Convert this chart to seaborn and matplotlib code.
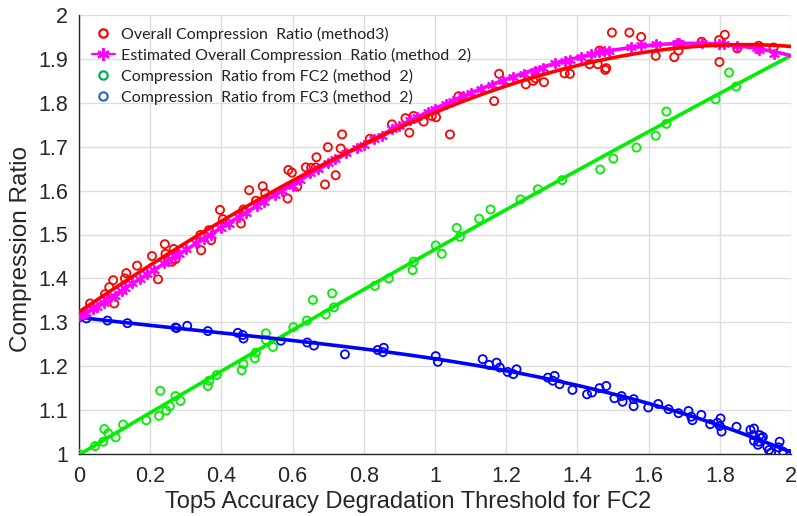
import numpy as np
import pandas as pd
import matplotlib
matplotlib.use("Agg")
import matplotlib.pyplot as plt
from matplotlib.lines import Line2D
import seaborn as sns

# ---------------- data ----------------
red_x = [0.0, 0.031, 0.073, 0.085, 0.096, 0.099, 0.129, 0.133, 0.163, 0.205, 0.222, 0.241,
         0.243, 0.266, 0.261, 0.271, 0.341, 0.343, 0.365, 0.371, 0.396, 0.404, 0.455, 0.462,
         0.478, 0.497, 0.516, 0.523, 0.586, 0.588, 0.598, 0.613, 0.637, 0.665, 0.667, 0.652,
         0.691, 0.699, 0.721, 0.735, 0.739, 0.817, 0.879, 0.917, 0.940, 0.928, 0.968, 0.991,
         1.003, 1.042, 1.066, 1.166, 1.180, 1.255, 1.276, 1.282, 1.306, 1.364, 1.379, 1.434,
         1.457, 1.462, 1.478, 1.481, 1.497, 1.546, 1.579, 1.620, 1.672, 1.684, 1.749, 1.798,
         1.814, 1.799, 1.849, 1.909, 1.951]
red_y = [1.317, 1.343, 1.364, 1.380, 1.396, 1.343, 1.400, 1.412, 1.429, 1.451, 1.398, 1.478,
         1.456, 1.467, 1.438, 1.444, 1.499, 1.464, 1.510, 1.487, 1.556, 1.535, 1.525, 1.557,
         1.601, 1.577, 1.610, 1.594, 1.582, 1.647, 1.641, 1.609, 1.653, 1.653, 1.676, 1.652,
         1.614, 1.699, 1.635, 1.696, 1.728, 1.718, 1.751, 1.765, 1.770, 1.732, 1.757, 1.770,
         1.767, 1.728, 1.815, 1.804, 1.866, 1.842, 1.850, 1.856, 1.847, 1.867, 1.866, 1.888,
         1.888, 1.919, 1.875, 1.879, 1.960, 1.960, 1.950, 1.907, 1.904, 1.919, 1.939, 1.943,
         1.955, 1.893, 1.924, 1.930, 1.926]

mag_x = [0.0, 0.01, 0.02, 0.04, 0.05, 0.07, 0.08, 0.10, 0.12, 0.13, 0.15, 0.17, 0.19, 0.21,
         0.24, 0.25, 0.27, 0.28, 0.30, 0.33, 0.35, 0.37, 0.40, 0.42, 0.45, 0.47, 0.50, 0.52,
         0.55, 0.57, 0.60, 0.62, 0.65, 0.67, 0.70, 0.72, 0.75, 0.78, 0.80, 0.83, 0.85, 0.88,
         0.90, 0.93, 0.95, 0.98, 1.00, 1.03, 1.05, 1.08, 1.10, 1.13, 1.16, 1.19, 1.22, 1.25,
         1.28, 1.303, 1.336, 1.364, 1.378, 1.41, 1.439, 1.462, 1.476, 1.49, 1.551, 1.579,
         1.62, 1.681, 1.686, 1.751, 1.798, 1.812, 1.849, 1.905, 1.909, 1.953]
mag_y = [1.315, 1.318, 1.322, 1.330, 1.335, 1.345, 1.352, 1.360, 1.372, 1.377, 1.390, 1.398,
         1.410, 1.420, 1.436, 1.440, 1.452, 1.455, 1.467, 1.480, 1.490, 1.500, 1.515, 1.525,
         1.540, 1.550, 1.565, 1.575, 1.590, 1.600, 1.610, 1.625, 1.640, 1.650, 1.662, 1.672,
         1.685, 1.698, 1.705, 1.718, 1.725, 1.740, 1.748, 1.760, 1.768, 1.780, 1.787, 1.798,
         1.805, 1.815, 1.822, 1.832, 1.840, 1.849, 1.858, 1.865, 1.872, 1.879, 1.890, 1.895,
         1.897, 1.904, 1.911, 1.915, 1.918, 1.919, 1.928, 1.932, 1.934, 1.937, 1.937, 1.937,
         1.935, 1.933, 1.930, 1.924, 1.920, 1.912]

green_x = [0.0, 0.045, 0.068, 0.071, 0.082, 0.103, 0.124, 0.189, 0.225, 0.228, 0.245, 0.255,
           0.271, 0.285, 0.362, 0.366, 0.387, 0.457, 0.462, 0.494, 0.497, 0.525, 0.525, 0.545,
           0.602, 0.640, 0.657, 0.693, 0.711, 0.716, 0.831, 0.870, 0.937, 0.940, 1.002, 1.019,
           1.061, 1.070, 1.124, 1.156, 1.240, 1.289, 1.357, 1.464, 1.501, 1.566, 1.620, 1.650,
           1.650, 1.788, 1.826, 1.846]
green_y = [1.000, 1.018, 1.028, 1.057, 1.047, 1.038, 1.067, 1.077, 1.087, 1.144, 1.099, 1.109,
           1.132, 1.121, 1.155, 1.167, 1.180, 1.191, 1.205, 1.218, 1.231, 1.275, 1.260, 1.244,
           1.289, 1.304, 1.351, 1.318, 1.366, 1.334, 1.383, 1.400, 1.419, 1.438, 1.475, 1.456,
           1.515, 1.495, 1.536, 1.557, 1.580, 1.603, 1.624, 1.648, 1.673, 1.698, 1.725, 1.752,
           1.780, 1.808, 1.869, 1.837]

blue_x = [0.0, 0.021, 0.080, 0.136, 0.271, 0.274, 0.304, 0.362, 0.446, 0.460, 0.462, 0.567,
          0.641, 0.660, 0.747, 0.839, 0.856, 0.854, 1.002, 1.008, 1.134, 1.152, 1.173, 1.182,
          1.204, 1.220, 1.229, 1.317, 1.336, 1.331, 1.350, 1.386, 1.427, 1.441, 1.462, 1.481,
          1.504, 1.524, 1.527, 1.558, 1.558, 1.599, 1.627, 1.656, 1.684, 1.712, 1.720, 1.723,
          1.748, 1.773, 1.793, 1.800, 1.802, 1.805, 1.847, 1.886, 1.896, 1.894, 1.896, 1.907,
          1.912, 1.916, 1.921, 1.909, 1.933, 1.938, 1.944, 1.968, 1.965, 1.978, 1.998]
blue_y = [1.311, 1.309, 1.304, 1.298, 1.288, 1.287, 1.292, 1.280, 1.276, 1.271, 1.263, 1.258,
          1.254, 1.247, 1.227, 1.237, 1.242, 1.232, 1.223, 1.210, 1.216, 1.203, 1.208, 1.197,
          1.187, 1.182, 1.193, 1.174, 1.178, 1.167, 1.159, 1.146, 1.136, 1.140, 1.150, 1.155,
          1.127, 1.132, 1.119, 1.125, 1.109, 1.106, 1.114, 1.102, 1.093, 1.098, 1.085, 1.077,
          1.089, 1.068, 1.071, 1.064, 1.081, 1.051, 1.062, 1.055, 1.058, 1.043, 1.030, 1.021,
          1.043, 1.036, 1.039, 1.028, 1.017, 1.009, 1.003, 1.028, 1.015, 1.005, 1.000]

legend_labels = ["Overall Compression  Ratio (method3)",
                 "Estimated Overall Compression  Ratio (method  2)",
                 "Compression  Ratio from FC2 (method  2)",
                 "Compression  Ratio from FC3 (method  2)"]
x_ticks = [0, 0.2, 0.4, 0.6, 0.8, 1, 1.2, 1.4, 1.6, 1.8, 2]
x_tick_labels = ["0", "0.2", "0.4", "0.6", "0.8", "1", "1.2", "1.4", "1.6", "1.8", "2"]
y_ticks = [1, 1.1, 1.2, 1.3, 1.4, 1.5, 1.6, 1.7, 1.8, 1.9, 2]
y_tick_labels = ["1", "1.1", "1.2", "1.3", "1.4", "1.5", "1.6", "1.7", "1.8", "1.9", "2"]
x_label = "Top5 Accuracy Degradation Threshold for FC2"
y_label = "Compression Ratio"

# ---------------- style ----------------
sns.set_style("white")
plt.rcParams["font.family"] = ["Liberation Sans", "DejaVu Sans"]

W, H = 797, 516
L, R, T, B = 79, 791, 15, 454
fig = plt.figure(figsize=(W / 100, H / 100), dpi=100)
ax = fig.add_axes([L / W, 1 - B / H, (R - L) / W, (B - T) / H])
ax.set_xlim(0, 2)
ax.set_ylim(1, 2)

RED, MAG, GRN, BLU = "#ff0000", "#ff00ff", "#00ee00", "#0000ff"
circ = dict(facecolor="none", linewidth=1.3, s=34, marker="o", zorder=3)

# fitted lines
sns.regplot(x=np.array(green_x), y=np.array(green_y), order=2, ci=None, scatter=False,
            truncate=False, ax=ax, line_kws=dict(color=GRN, lw=2.6, zorder=4))
sns.regplot(x=np.array(blue_x), y=np.array(blue_y), order=3, ci=None, scatter=False,
            truncate=False, ax=ax, line_kws=dict(color=BLU, lw=2.6, zorder=4))
sns.regplot(x=np.array(mag_x), y=np.array(mag_y), order=3, ci=None, scatter=False,
            truncate=False, ax=ax, line_kws=dict(color=MAG, lw=2.6, zorder=4))
sns.regplot(x=np.array(red_x), y=np.array(red_y), order=3, ci=None, scatter=False,
            truncate=False, ax=ax, line_kws=dict(color=RED, lw=2.6, zorder=5))

# scatter points
sns.scatterplot(x=green_x, y=green_y, edgecolor=GRN, ax=ax, **circ)
sns.scatterplot(x=blue_x, y=blue_y, edgecolor=BLU, ax=ax, **circ)
sns.scatterplot(x=red_x, y=red_y, edgecolor=RED, ax=ax, **circ)
sns.scatterplot(x=mag_x, y=mag_y, marker=(6, 2, 0), s=45, color=MAG, edgecolor=MAG,
                linewidth=1.4, ax=ax, zorder=4)

ax.set_xlim(0, 2)
ax.set_ylim(1, 2)
ax.set_xticks(x_ticks)
ax.set_xticklabels(x_tick_labels)
ax.set_yticks(y_ticks)
ax.set_yticklabels(y_tick_labels)
ax.tick_params(direction="in", length=7, width=1, colors="#262626", labelsize=15.5,
               top=False, right=False)
ax.tick_params(axis="x", pad=9)
ax.tick_params(axis="y", pad=8)
ax.grid(True, color="#dddddd", linewidth=1)
ax.set_axisbelow(True)
for s in ["top", "right"]:
    ax.spines[s].set_visible(False)
for s in ["left", "bottom"]:
    ax.spines[s].set_color("#262626")
    ax.spines[s].set_linewidth(1)
ax.set_xlabel(x_label, fontsize=17, color="#262626", labelpad=7)
ax.xaxis.set_label_coords((408.5 - L) / (R - L), -(513 - B) / (B - T), transform=ax.transAxes)
ax.xaxis.label.set_va("bottom")
ax.set_ylabel(y_label, fontsize=17.5, color="#262626")
ax.yaxis.set_label_coords(-(L - 10) / (R - L), (B - 249) / (B - T), transform=ax.transAxes)
ax.yaxis.label.set_va("top")

handles = [
    Line2D([], [], ls="none", marker="o", mfc="none", mec=RED, mew=1.6, ms=6),
    Line2D([], [], color=MAG, lw=1.6, marker=(6, 2, 0), mec=MAG, mew=1.6, ms=9),
    Line2D([], [], ls="none", marker="o", mfc="none", mec="#00b050", mew=1.6, ms=6),
    Line2D([], [], ls="none", marker="o", mfc="none", mec="#2f6fc0", mew=1.6, ms=6),
]
leg = ax.legend(handles, legend_labels, loc="upper left", bbox_to_anchor=(0.005, 0.995),
                frameon=False, handlelength=1.4, handletextpad=0.4, labelspacing=0.375,
                borderaxespad=0.2, prop=dict(family="Lato", size=11.5))
for t in leg.get_texts():
    t.set_color("#222222")

fig.savefig("out.png", dpi=100)
